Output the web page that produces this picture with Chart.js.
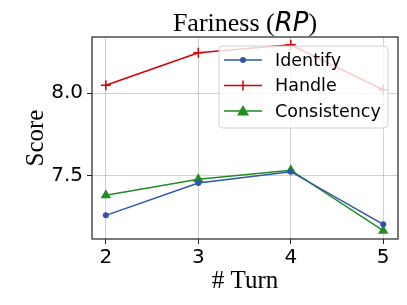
<!DOCTYPE html>
<html>
<head>
<meta charset="utf-8">
<script src="https://cdn.jsdelivr.net/npm/chart.js@4/dist/chart.umd.min.js"></script>
<style>
  html, body { margin: 0; padding: 0; background: #fff; }
  #wrap { width: 407px; height: 305px; position: relative; }
</style>
</head>
<body>
<div id="wrap"><canvas id="c" width="407" height="305"></canvas></div>
<script>
// values
const turns = [2, 3, 4, 5];
const identify = [7.26, 7.456, 7.524, 7.206];
const handle = [8.047, 8.244, 8.292, 8.02];
const consistency = [7.381, 7.478, 7.533, 7.167];
const yTicks = [7.5, 8.0];
const seriesNames = ['Identify', 'Handle', 'Consistency'];

const BLUE = '#2f56a6';
const RED = '#d40000';
const GREEN = '#228b22';

const toPts = (arr) => arr.map((v, i) => ({x: turns[i], y: v}));

// title, axis titles, frame and legend drawn by hand (mixed fonts, overlay legend)
const decor = {
  id: 'decor',
  afterDraw (chart) {
    const ctx = chart.ctx;
    const a = chart.chartArea;
    const cx = (a.left + a.right) / 2;
    ctx.save();

    // frame
    ctx.strokeStyle = '#222';
    ctx.lineWidth = 1.2;
    ctx.strokeRect(a.left, a.top, a.right - a.left, a.bottom - a.top);

    // title: "Fariness (" serif + "RP" italic sans + ")"
    const serif = '26px "Liberation Serif", "DejaVu Serif", serif';
    const ital = 'italic 26px "DejaVu Sans", sans-serif';
    const p1 = 'Fariness (', p2 = 'RP', p3 = ')';
    ctx.font = serif;
    const w1 = ctx.measureText(p1).width, w3 = ctx.measureText(p3).width;
    ctx.font = ital;
    const w2 = ctx.measureText(p2).width;
    let x = cx - (w1 + w2 + w3) / 2;
    const ty = 31;
    ctx.fillStyle = '#000';
    ctx.textBaseline = 'alphabetic';
    ctx.textAlign = 'left';
    ctx.font = serif; ctx.fillText(p1, x, ty); x += w1;
    ctx.font = ital; ctx.fillText(p2, x, ty); x += w2;
    ctx.font = serif; ctx.fillText(p3, x, ty);

    // x title
    ctx.font = '25px "Liberation Serif", "DejaVu Serif", serif';
    ctx.textAlign = 'center';
    ctx.fillText('# Turn', cx, 288);

    // y title
    ctx.save();
    ctx.translate(43, (a.top + a.bottom) / 2);
    ctx.rotate(-Math.PI / 2);
    ctx.fillText('Score', 0, 0);
    ctx.restore();

    // legend
    const lx = 219, ly = 46, lw = 169, lh = 82, r = 4;
    ctx.beginPath();
    ctx.moveTo(lx + r, ly);
    ctx.arcTo(lx + lw, ly, lx + lw, ly + lh, r);
    ctx.arcTo(lx + lw, ly + lh, lx, ly + lh, r);
    ctx.arcTo(lx, ly + lh, lx, ly, r);
    ctx.arcTo(lx, ly, lx + lw, ly, r);
    ctx.closePath();
    ctx.fillStyle = 'rgba(255,255,255,0.8)';
    ctx.fill();
    ctx.strokeStyle = 'rgba(204,204,204,0.9)';
    ctx.lineWidth = 1;
    ctx.stroke();

    const colors = [BLUE, RED, GREEN];
    ctx.font = '17.5px "DejaVu Sans", sans-serif';
    ctx.textAlign = 'left';
    ctx.textBaseline = 'middle';
    seriesNames.forEach((name, i) => {
      const yy = 60 + i * 25.5;
      ctx.strokeStyle = colors[i];
      ctx.lineWidth = 1.5;
      ctx.beginPath();
      ctx.moveTo(224, yy); ctx.lineTo(262, yy);
      ctx.stroke();
      ctx.fillStyle = colors[i];
      if (i === 0) {
        ctx.beginPath(); ctx.arc(243, yy, 3, 0, Math.PI * 2); ctx.fill();
      } else if (i === 1) {
        ctx.beginPath();
        ctx.moveTo(243, yy - 5); ctx.lineTo(243, yy + 5);
        ctx.stroke();
      } else {
        ctx.beginPath();
        ctx.moveTo(243, yy - 6); ctx.lineTo(249, yy + 4.5); ctx.lineTo(237, yy + 4.5);
        ctx.closePath(); ctx.fill();
      }
      ctx.fillStyle = '#000';
      ctx.fillText(name, 275, yy + 1);
    });
    ctx.restore();
  }
};

new Chart(document.getElementById('c'), {
  type: 'line',
  data: {
    datasets: [
      {label: seriesNames[0], data: toPts(identify), borderColor: BLUE, backgroundColor: BLUE,
        borderWidth: 1.5, pointStyle: 'circle', pointRadius: 3, pointBorderWidth: 0},
      {label: seriesNames[1], data: toPts(handle), borderColor: RED, backgroundColor: RED,
        borderWidth: 1.5, pointStyle: 'cross', pointRadius: 5, pointBorderWidth: 1.5},
      {label: seriesNames[2], data: toPts(consistency), borderColor: GREEN, backgroundColor: GREEN,
        borderWidth: 1.5, pointStyle: 'triangle', pointRadius: 6, pointBorderWidth: 0}
    ]
  },
  options: {
    responsive: false,
    animation: false,
    layout: {padding: {top: 37, right: 9, left: 0, bottom: 0}},
    plugins: {legend: {display: false}, tooltip: {enabled: false}},
    scales: {
      x: {
        type: 'linear', min: 1.85, max: 5.16,
        afterBuildTicks: (s) => { s.ticks = turns.map(v => ({value: v})); },
        afterFit: (s) => { s.height = 66; },
        grid: {color: 'rgba(0,0,0,0.18)', tickColor: '#222', tickLength: 5, drawOnChartArea: true},
        border: {display: false},
        ticks: {color: '#000', font: {family: '"DejaVu Sans", sans-serif', size: 20}, padding: 2}
      },
      y: {
        min: 7.117, max: 8.339,
        afterBuildTicks: (s) => { s.ticks = yTicks.map(v => ({value: v})); },
        afterFit: (s) => { s.width = 92; },
        grid: {color: 'rgba(0,0,0,0.18)', tickColor: '#222', tickLength: 5},
        border: {display: false},
        ticks: {color: '#000', font: {family: '"DejaVu Sans", sans-serif', size: 20}, padding: 4,
          callback: (v) => v.toFixed(1)}
      }
    }
  },
  plugins: [decor]
});
</script>
</body>
</html>
